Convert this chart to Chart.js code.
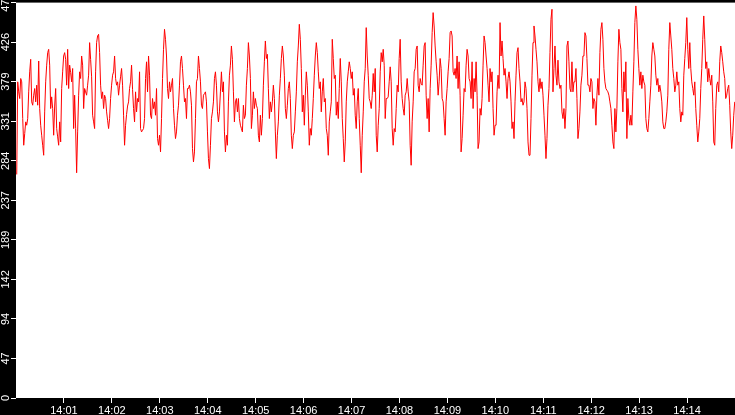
<!DOCTYPE html>
<html>
<head>
<meta charset="utf-8">
<script src="https://cdn.jsdelivr.net/npm/chart.js@4.4.1/dist/chart.umd.min.js"></script>
<style>
  html, body { margin: 0; padding: 0; background: #000; }
  canvas { display: block; }
</style>
</head>
<body>
<canvas id="chart" width="735" height="415"></canvas>
<script>
// Samples every 1.25 s starting 14:00:00.9 (x values are seconds after 14:00)
const sampleStart = 0.9
const sampleStep = 1.25

const part1 = [
  268,379,367,359,383,379,335,303,317,331, 327,335,367,391,406,355,351,363,371,355,
  375,351,404,347,327,315,303,291,343,379, 399,414,418,399,347,361,347,315,350,371,
  323,313,303,331,307,371,391,410,414,406, 375,418,371,399,390,379,395,323,363,323,
  270,319,363,391,383,410,399,347,371,367, 363,375,387,426,406,385,339,331,323,391,
  426,434,436,414,375,359,367,347,363,359, 343,333,323,335,359,375,387,391,410,383,
  375,379,363,375,385,395,375,339,303,327, 340,350,355,371,379,399,370,347,331,367
]
const part2 = [
  343,359,355,391,323,319,321,323,335,383, 403,367,410,387,339,335,359,347,355,339,
  371,311,303,315,295,335,383,418,442,430, 410,371,359,379,367,375,383,347,327,311,
  319,339,351,375,403,410,395,375,355,359, 335,371,371,375,367,351,299,283,295,335,
  379,383,410,395,379,351,347,363,365,367, 355,319,287,275,303,335,343,355,383,391,
  375,343,331,343,367,391,367,379,319,295, 315,303,355,387,399,422,406,367,331,355,
  359,343,359,335,327,323,319,351,335,339, 375,395,426,410,383,323,339,367,347,359
]
const part3 = [
  351,347,315,307,339,315,335,375,403,428, 407,412,371,335,355,343,355,375,359,319,
  287,315,331,363,383,407,422,410,387,347, 335,351,371,379,359,315,299,315,319,343,
  367,403,422,448,430,395,343,363,327,363, 391,375,343,303,323,315,335,359,387,410,
  426,414,391,371,379,343,367,383,355,359, 323,315,291,331,343,355,430,407,383,387,
  339,355,335,371,407,379,335,311,283,307, 355,379,391,403,395,383,391,363,371,339,
  323,355,371,335,303,270,315,343,379,395, 444,410,387,359,355,347,363,389,367,395
]
const part4 = [
  315,295,327,347,391,414,403,418,399,335, 359,359,361,379,397,379,323,303,323,319,
  347,375,367,407,430,379,359,347,339,363, 367,383,367,355,303,279,331,355,391,395,
  418,422,375,367,383,377,375,399,422,426, 363,335,359,319,371,399,438,462,446,422,
  403,387,363,379,407,395,359,355,335,315, 355,371,391,407,438,440,434,391,387,395,
  383,410,371,403,363,295,311,339,371,367, 399,418,410,383,379,359,403,347,383,367,
  403,363,299,307,347,339,359,399,434,426, 410,395,375,355,395,379,391,347,315,327
]
const part5 = [
  327,367,387,371,450,410,428,407,387,395, 379,359,383,391,379,355,323,331,311,355,
  387,414,420,395,379,355,359,351,355,379, 371,347,307,291,291,335,387,426,446,434,
  418,403,379,367,383,371,379,363,339,315, 287,311,351,371,414,454,466,367,395,422,
  387,375,405,379,371,375,343,335,347,323, 347,422,428,403,371,367,403,367,379,379,
  395,359,311,323,343,375,387,410,410,438, 434,407,375,375,367,383,379,347,359,355,
  327,363,383,363,414,442,450,430,395,379, 371,369,367,363,355,347,327,307,299,347
]
const part6 = [
  319,347,403,442,426,418,371,343,391,367, 403,311,359,335,327,339,327,367,403,450,
  470,454,418,395,375,391,371,387,379,375, 335,323,319,335,355,375,410,426,418,410,
  387,375,383,367,375,367,355,331,323,323, 331,343,363,418,450,434,418,395,383,367,
  375,391,375,379,347,331,343,339,387,407, 426,456,418,395,426,395,379,371,363,379,
  347,327,307,319,335,371,395,430,458,430, 395,403,379,395,383,375,387,355,307,303,
  347,375,379,367,403,422,414,403,391,383, 359,363,371,375,351,319,299,315,339,355
]

const minuteTicks = [60,120,180,240,300,360,420,480,540,600,660,720,780,840]
const minuteLabels = ["14:01","14:02","14:03","14:04","14:05","14:06","14:07",
                      "14:08","14:09","14:10","14:11","14:12","14:13","14:14"]
const yTickValues = [0,47.4,94.8,142.2,189.6,237,284.4,331.8,379.2,426.6,474]
const yTickLabels = ["0","47","94","142","189","237","284","331","379","426","474"]

const values = [...part1, ...part2, ...part3, ...part4, ...part5, ...part6]
const points = values.map((v, i) => ({ x: sampleStart + i * sampleStep, y: v }))

// black frame around a white plot area
const frame = {
  id: "frame",
  beforeDraw(chart) {
    const { ctx, chartArea: a } = chart
    ctx.save()
    ctx.fillStyle = "#000"
    ctx.fillRect(0, 0, chart.width, chart.height)
    ctx.fillStyle = "#fff"
    ctx.fillRect(a.left, a.top, a.right - a.left, a.bottom - a.top)
    ctx.restore()
  }
}

const tickFont = { family: "'Liberation Sans', Arial, sans-serif", size: 11 }

new Chart(document.getElementById("chart"), {
  type: "line",
  data: {
    datasets: [{
      data: points,
      borderColor: "#ff0000",
      borderWidth: 1,
      pointRadius: 0,
      tension: 0,
      fill: false
    }]
  },
  options: {
    responsive: false,
    animation: false,
    devicePixelRatio: 1,
    layout: { padding: 0 },
    plugins: { legend: { display: false }, tooltip: { enabled: false } },
    scales: {
      x: {
        type: "linear",
        min: 0,
        max: 900,
        afterBuildTicks: (axis) => { axis.ticks = minuteTicks.map(v => ({ value: v })) },
        afterFit: (axis) => { axis.height = 17 },
        border: { display: false },
        grid: { drawOnChartArea: false, tickLength: 5, tickColor: "#fff" },
        ticks: {
          color: "#fff",
          font: tickFont,
          padding: 1,
          maxRotation: 0,
          autoSkip: false,
          callback: (v) => minuteLabels[minuteTicks.indexOf(v)]
        }
      },
      y: {
        min: 0,
        max: 474,
        afterBuildTicks: (axis) => { axis.ticks = yTickValues.map(v => ({ value: v })) },
        afterFit: (axis) => { axis.width = 16 },
        border: { display: false },
        grid: { drawOnChartArea: false, tickLength: 5, tickColor: "#fff" },
        ticks: {
          color: "#fff",
          font: tickFont,
          padding: -4,
          minRotation: 90,
          maxRotation: 90,
          crossAlign: "center",
          autoSkip: false,
          callback: (v) => yTickLabels[yTickValues.indexOf(v)]
        }
      }
    }
  },
  plugins: [frame]
})
</script>
</body>
</html>
